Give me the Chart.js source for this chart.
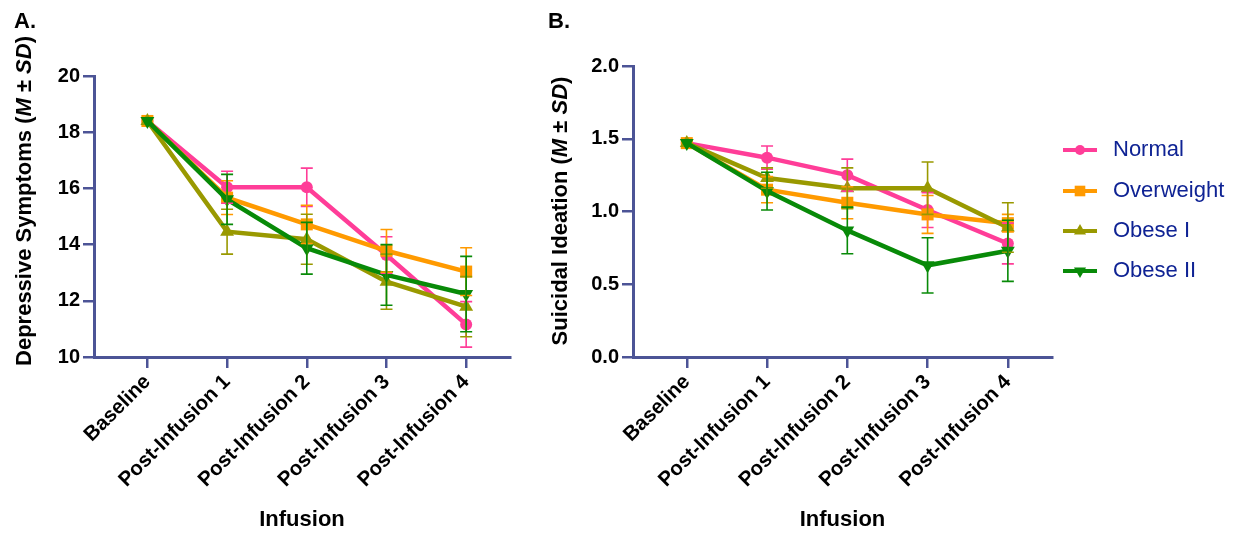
<!DOCTYPE html>
<html>
<head>
<meta charset="utf-8">
<script src="https://cdn.jsdelivr.net/npm/chart.js@4.4.1/dist/chart.umd.min.js"></script>
<style>
  html, body { margin: 0; padding: 0; background: #fff; }
  #wrap { position: relative; width: 1238px; height: 533px; }
  .panel { position: absolute; top: 0; height: 533px; }
</style>
</head>
<body>
<div id="wrap">
  <div class="panel" style="left:0;width:530px"><canvas id="chartA"></canvas></div>
  <div class="panel" style="left:530px;width:708px"><canvas id="chartB"></canvas></div>
</div>
<script>
const infusions = ['Baseline', 'Post-Infusion 1', 'Post-Infusion 2', 'Post-Infusion 3', 'Post-Infusion 4'];
const groups = ['Normal', 'Overweight', 'Obese I', 'Obese II'];

// A. depressive symptoms, means and SDs
const depNormal = [18.4, 16.04, 16.04, 13.63, 11.16];
const depOverweight = [18.4, 15.67, 14.72, 13.78, 13.04];
const depObese1 = [18.4, 14.46, 14.19, 12.68, 11.79];
const depObese2 = [18.4, 15.61, 13.87, 12.92, 12.24];
const depNormalSD = [0, 0.57, 0.68, 0.65, 0.81];
const depOverweightSD = [0, 0.6, 0.68, 0.76, 0.85];
const depObese1SD = [0, 0.8, 0.89, 0.98, 1.07];
const depObese2SD = [0, 0.89, 0.92, 1.08, 1.34];

// B. suicidal ideation, means and SDs
const siNormal = [1.47, 1.37, 1.25, 1.01, 0.78];
const siOverweight = [1.47, 1.15, 1.06, 0.98, 0.92];
const siObese1 = [1.47, 1.23, 1.16, 1.16, 0.89];
const siObese2 = [1.47, 1.14, 0.87, 0.63, 0.73];
const siNormalSD = [0, 0.08, 0.11, 0.12, 0.14];
const siOverweightSD = [0, 0.09, 0.11, 0.13, 0.06];
const siObese1SD = [0, 0.07, 0.14, 0.18, 0.17];
const siObese2SD = [0, 0.13, 0.16, 0.19, 0.21];

const depTicks = [10, 12, 14, 16, 18, 20];
const siTicks = [0, 0.5, 1.0, 1.5, 2.0];

const colors = ['#ff3d98', '#ff9a00', '#999900', '#088a08'];
const markers = [
  { style: 'circle', radius: 6, rotation: 0 },
  { style: 'rect', radius: 8.5, rotation: 0 },
  { style: 'triangle', radius: 8, rotation: 0 },
  { style: 'triangle', radius: 8, rotation: 180 }
];
const axisColor = '#4c5496';
const FONT = '"Liberation Sans", Arial, sans-serif';

function makeDatasets(series, sds) {
  return series.map((vals, k) => ({
    label: groups[k],
    data: vals.map((v, i) => ({ x: i, y: v })),
    errors: sds[k],
    borderColor: colors[k],
    backgroundColor: colors[k],
    borderWidth: 4.5,
    pointStyle: markers[k].style,
    pointRadius: markers[k].radius,
    pointRotation: markers[k].rotation,
    pointBorderWidth: 0,
    tension: 0,
    order: 4 - k
  }));
}

// vertical SD bars with caps
const errorBars = {
  id: 'errorBars',
  afterDatasetsDraw(chart) {
    const ctx = chart.ctx;
    const y = chart.scales.y;
    chart.data.datasets.forEach((ds, k) => {
      const meta = chart.getDatasetMeta(k);
      ds.data.forEach((p, i) => {
        const sd = ds.errors[i];
        if (!sd) return;
        const px = meta.data[i].x;
        const top = y.getPixelForValue(p.y + sd);
        const bot = y.getPixelForValue(p.y - sd);
        ctx.save();
        ctx.strokeStyle = ds.borderColor;
        ctx.lineWidth = 1.6;
        ctx.beginPath();
        ctx.moveTo(px, top); ctx.lineTo(px, bot);
        ctx.moveTo(px - 6, top); ctx.lineTo(px + 6, top);
        ctx.moveTo(px - 6, bot); ctx.lineTo(px + 6, bot);
        ctx.stroke();
        ctx.restore();
      });
    });
  }
};

// y title with italic M and SD, plus the panel letter
const decor = {
  id: 'decor',
  afterDraw(chart, args, opts) {
    const ctx = chart.ctx;
    ctx.save();
    ctx.fillStyle = '#000';
    ctx.textBaseline = 'middle';
    ctx.font = 'bold 22px ' + FONT;
    ctx.fillText(opts.letter, opts.letterX, 22);

    const parts = [
      [opts.title + ' (', 'bold'], ['M', 'italic bold'], [' \u00b1 ', 'bold'], ['SD', 'italic bold'], [')', 'bold']
    ];
    let total = 0;
    parts.forEach(p => { ctx.font = p[1] + ' 22px ' + FONT; total += ctx.measureText(p[0]).width; });
    ctx.translate(opts.titleX, opts.titleY);
    ctx.rotate(-Math.PI / 2);
    let x = -total / 2;
    parts.forEach(p => {
      ctx.font = p[1] + ' 22px ' + FONT;
      ctx.fillText(p[0], x, 0);
      x += ctx.measureText(p[0]).width;
    });
    ctx.restore();
  }
};

// legend to the right of panel B
const sideLegend = {
  id: 'sideLegend',
  afterDraw(chart, args, opts) {
    const ctx = chart.ctx;
    ctx.save();
    groups.forEach((g, k) => {
      const yy = opts.rows[k];
      ctx.strokeStyle = colors[k];
      ctx.fillStyle = colors[k];
      ctx.lineWidth = 4;
      ctx.beginPath();
      ctx.moveTo(opts.x, yy); ctx.lineTo(opts.x + 34, yy);
      ctx.stroke();
      Chart.helpers.drawPoint(ctx, {
        pointStyle: markers[k].style,
        rotation: markers[k].rotation,
        radius: markers[k].radius - 1,
        borderWidth: 0
      }, opts.x + 17, yy);
      ctx.fillStyle = '#0f2394';
      ctx.font = '22px ' + FONT;
      ctx.textBaseline = 'middle';
      ctx.fillText(g, opts.x + 50, yy);
    });
    ctx.restore();
  }
};

function makeOptions(yTicks, yFmt, yWidth, padTop, padRight, decorOpts, legendOpts) {
  return {
    responsive: true,
    maintainAspectRatio: false,
    animation: false,
    layout: { padding: { top: padTop, right: padRight, left: 0, bottom: 0 } },
    plugins: {
      legend: { display: false },
      tooltip: { enabled: false },
      decor: decorOpts,
      sideLegend: legendOpts
    },
    scales: {
      x: {
        type: 'linear',
        min: -0.67,
        max: 4.55,
        afterBuildTicks: s => { s.ticks = infusions.map((_, i) => ({ value: i })); },
        afterFit: s => { s.height = 176; },
        grid: { drawOnChartArea: false, color: axisColor, lineWidth: 2.5, tickLength: 11 },
        border: { color: axisColor, width: 3 },
        ticks: {
          autoSkip: false,
          minRotation: 45,
          maxRotation: 45,
          padding: 2,
          color: '#000',
          font: { family: FONT, size: 20.5, weight: 'bold' },
          callback: v => infusions[v]
        },
        title: {
          display: true,
          text: 'Infusion',
          color: '#000',
          font: { family: FONT, size: 22, weight: 'bold' },
          padding: { top: 0, bottom: 0 }
        }
      },
      y: {
        min: yTicks[0],
        max: yTicks[yTicks.length - 1],
        afterBuildTicks: s => { s.ticks = yTicks.map(v => ({ value: v })); },
        afterFit: s => { s.width = yWidth; },
        grid: { drawOnChartArea: false, color: axisColor, lineWidth: 2.5, tickLength: 11 },
        border: { color: axisColor, width: 3 },
        ticks: {
          padding: 3,
          color: '#000',
          font: { family: FONT, size: 20, weight: 'bold' },
          callback: yFmt
        }
      }
    }
  };
}

new Chart(document.getElementById('chartA'), {
  type: 'line',
  data: { datasets: makeDatasets([depNormal, depOverweight, depObese1, depObese2],
                                 [depNormalSD, depOverweightSD, depObese1SD, depObese2SD]) },
  options: makeOptions(depTicks, v => v, 94, 76, 20,
    { letter: 'A.', letterX: 14, title: 'Depressive Symptoms', titleX: 25, titleY: 201 },
    null),
  plugins: [errorBars, decor]
});

new Chart(document.getElementById('chartB'), {
  type: 'line',
  data: { datasets: makeDatasets([siNormal, siOverweight, siObese1, siObese2],
                                 [siNormalSD, siOverweightSD, siObese1SD, siObese2SD]) },
  options: makeOptions(siTicks, v => v.toFixed(1), 103, 66, 186,
    { letter: 'B.', letterX: 18, title: 'Suicidal Ideation', titleX: 31, titleY: 211 },
    { x: 533, rows: [150, 191, 231, 271] }),
  plugins: [errorBars, decor, sideLegend]
});
</script>
</body>
</html>
